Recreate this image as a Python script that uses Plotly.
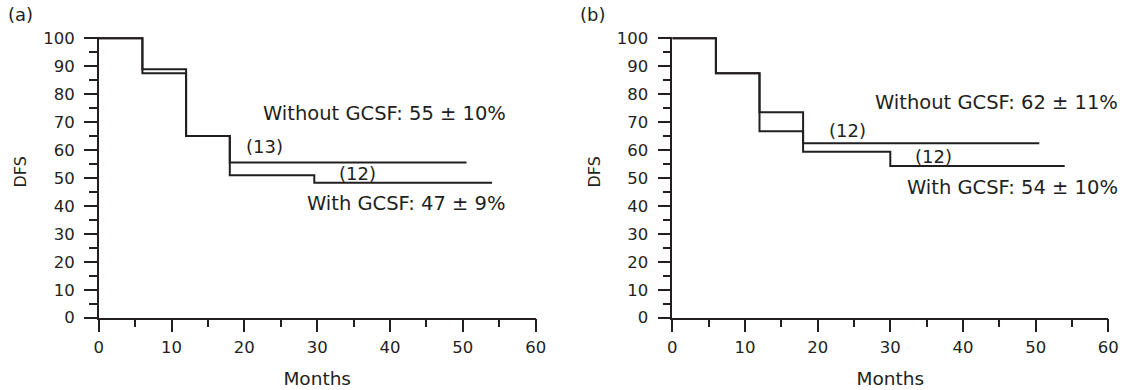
import plotly.graph_objects as go

# ---- data ----
months_a_without = [0, 6, 12, 18, 50.5]
dfs_a_without = [100, 88.9, 65, 55.5, 55.5]
months_a_with = [0, 6, 12, 18, 29.6, 54]
dfs_a_with = [100, 87.5, 65, 51, 48.3, 48.3]

months_b_without = [0, 6, 12, 18, 50.5]
dfs_b_without = [100, 87.5, 73.5, 62.4, 62.4]
months_b_with = [0, 6, 12, 18, 30, 54]
dfs_b_with = [100, 87.5, 66.7, 59.4, 54.3, 54.3]

label_a_without = "Without GCSF: 55 ± 10%"
label_a_with = "With GCSF: 47 ± 9%"
label_b_without = "Without GCSF: 62 ± 11%"
label_b_with = "With GCSF: 54 ± 10%"
counts_a = ["(13)", "(12)"]
counts_b = ["(12)", "(12)"]

INK = "#231f20"
FONT = "DejaVu Sans"
W, H = 1133, 390

fig = go.Figure()
line = dict(color=INK, width=2, shape="hv")
fig.add_trace(go.Scatter(x=months_a_without, y=dfs_a_without, mode="lines", line=line, xaxis="x", yaxis="y"))
fig.add_trace(go.Scatter(x=months_a_with, y=dfs_a_with, mode="lines", line=line, xaxis="x", yaxis="y"))
fig.add_trace(go.Scatter(x=months_b_without, y=dfs_b_without, mode="lines", line=line, xaxis="x2", yaxis="y2"))
fig.add_trace(go.Scatter(x=months_b_with, y=dfs_b_with, mode="lines", line=line, xaxis="x2", yaxis="y2"))

def px_x(p):
    return p / W

def px_y(p):
    return (H - p) / H

common = dict(
    showline=True, linecolor=INK, linewidth=1.5, showgrid=False, zeroline=False,
    ticks="outside", ticklen=13, tickwidth=1.5, tickcolor=INK,
    tickfont=dict(family=FONT, size=16.5, color=INK),
    dtick=10, automargin=False,
    minor=dict(ticks="outside", ticklen=8, tickwidth=1.5, tickcolor=INK, dtick=5, showgrid=False),
)

ydom = [px_y(317.7), px_y(36.6)]
xaxis = dict(common, range=[0, 60], tick0=0, ticklabelstandoff=1,
             title=dict(text="Months", font=dict(family=FONT, size=18.5, color=INK), standoff=16))
yaxis = dict(common, range=[0, 100.6], tick0=0, domain=ydom, ticklabelstandoff=6)

fig.update_layout(
    width=W, height=H,
    margin=dict(l=0, r=0, t=0, b=0),
    plot_bgcolor="white", paper_bgcolor="white",
    showlegend=False,
    xaxis=dict(xaxis, domain=[px_x(98.7), px_x(535.7)], anchor="y"),
    yaxis=dict(yaxis, anchor="x"),
    xaxis2=dict(xaxis, domain=[px_x(672.3), px_x(1108.3)], anchor="y2"),
    yaxis2=dict(yaxis, anchor="x2"),
)

ann_font = dict(family=FONT, size=19.5, color=INK)
cnt_font = dict(family=FONT, size=18, color=INK)

def ann(text, xp, yp, xanchor, font, **kw):
    d = dict(text=text, x=px_x(xp), y=px_y(yp), xref="paper", yref="paper",
             xanchor=xanchor, yanchor="middle", font=font, showarrow=False)
    d.update(kw)
    return d

anns = [
    ann(label_a_without, 508, 113.3, "right", ann_font),
    ann(counts_a[0], 244, 146, "left", cnt_font),
    ann(counts_a[1], 337, 173, "left", cnt_font),
    ann(label_a_with, 508, 204, "right", ann_font),
    ann(label_b_without, 1120, 102.7, "right", ann_font),
    ann(counts_b[0], 826.7, 130, "left", cnt_font),
    ann(counts_b[1], 913, 156.7, "left", cnt_font),
    ann(label_b_with, 1120, 187.7, "right", ann_font),
    ann("(a)", 6, 15, "left", cnt_font),
    ann("(b)", 578, 15, "left", cnt_font),
    ann("DFS", 20, 172.5, "center", dict(family=FONT, size=16, color=INK), textangle=-90),
    ann("DFS", 594, 172.5, "center", dict(family=FONT, size=16, color=INK), textangle=-90),
]
fig.update_layout(annotations=anns)

fig.write_html("out.html", config={"displayModeBar": False},
               post_script="document.body.style.margin='0';")
